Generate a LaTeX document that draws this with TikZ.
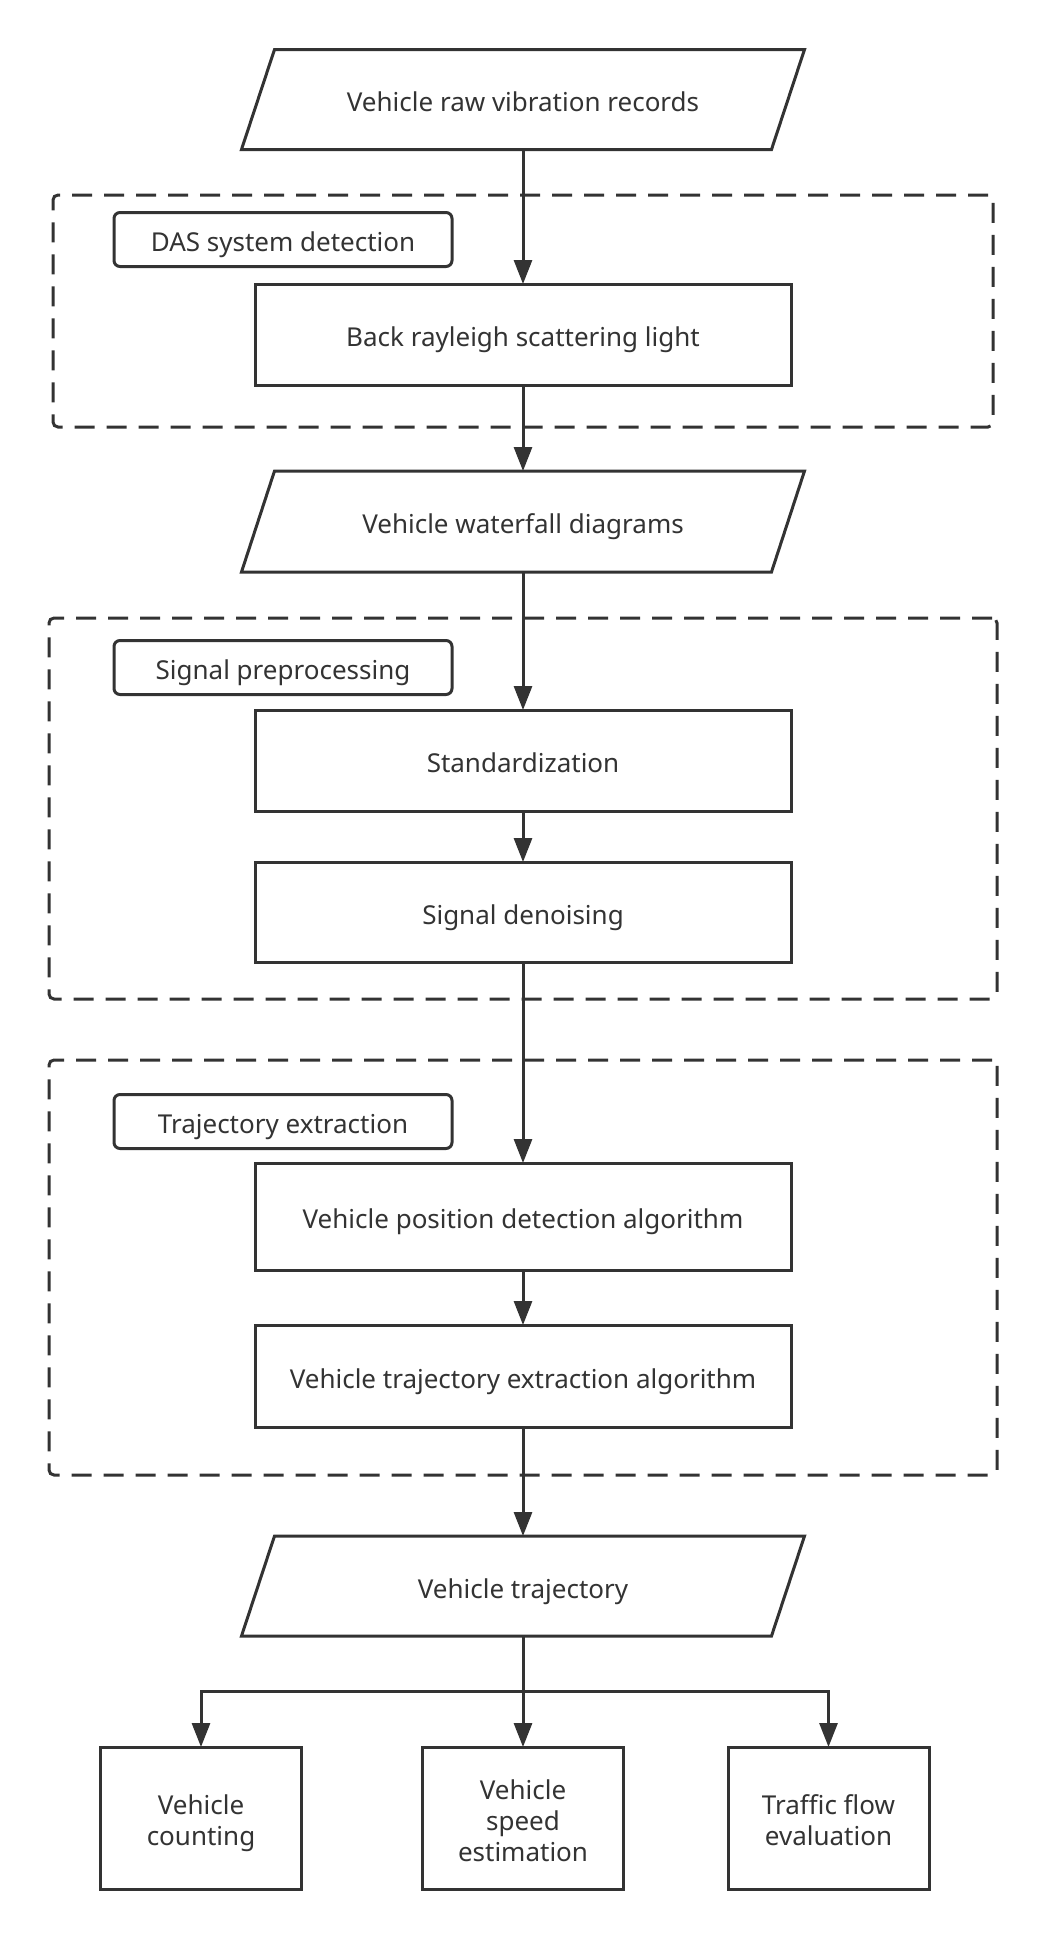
\documentclass[tikz,border=0pt]{standalone}
\usepackage{fontspec}
\setmainfont{Noto Sans}
\usetikzlibrary{arrows.meta}
\definecolor{ink}{HTML}{333333}
\tikzset{
  base/.style={outer sep=0pt, inner sep=0pt, text=ink, font=\fontsize{26}{31}\selectfont, align=center},
  one/.style={text height=24pt, text depth=0pt},
  proc/.style={base, one, draw=ink, line width=3pt, minimum width=536pt, minimum height=101pt},
  para/.style={base, one, minimum width=530pt, minimum height=100pt},
  lab/.style={base, one, draw=ink, line width=3pt, rounded corners=6pt, minimum width=338pt, minimum height=54pt},
  group/.style={base, draw=ink, line width=3pt, rounded corners=5pt, dash pattern=on 20pt off 12pt},
  small/.style={base, draw=ink, line width=3pt, minimum width=201pt, minimum height=142pt, text depth=0pt},
  line/.style={draw=ink, line width=3pt},
  arr/.style={line, -{Triangle[length=24pt,width=18pt]}},
  paraedge/.style={draw=ink, line width=3pt, line join=miter},
}
\newcommand{\paraoutline}[1]{%
  \draw[paraedge] ([xshift=16.5pt]#1.north west) -- ([xshift=16.5pt]#1.north east)
    -- ([xshift=-16.5pt]#1.south east) -- ([xshift=-16.5pt]#1.south west) -- cycle;}
\begin{document}
\begin{tikzpicture}[x=1pt,y=-1pt]
\useasboundingbox[fill=white] (0,0) rectangle (1046,1938);

% groups
\node[group, minimum width=940pt, minimum height=232pt] (g1) at (523,311) {};
\node[group, minimum width=948pt, minimum height=381pt] (g2) at (523,808.5) {};
\node[group, minimum width=948pt, minimum height=415pt] (g3) at (523,1267.5) {};

% group labels
\node[lab] (l1) at (283,239.5) {DAS system detection};
\node[lab] (l2) at (283,667.5) {Signal preprocessing};
\node[lab] (l3) at (283,1121.5) {Trajectory extraction};

% main flow
\node[para] (p1) at (523,99.5) {Vehicle raw vibration records};
\paraoutline{p1}
\node[proc] (r1) at (523,334.5) {Back rayleigh scattering light};
\node[para, minimum height=101pt] (p2) at (523,521.5) {Vehicle waterfall diagrams};
\paraoutline{p2}
\node[proc] (std) at (523,760.5) {Standardization};
\node[proc, minimum height=100pt] (den) at (523,912) {Signal denoising};
\node[proc, minimum height=107pt] (vpd) at (523,1216.5) {Vehicle position detection algorithm};
\node[proc, minimum height=102pt] (vte) at (523,1376) {Vehicle trajectory extraction algorithm};
\node[para] (p3) at (523,1586) {Vehicle trajectory};
\paraoutline{p3}

% outputs
\node[small, text height=54pt] (b1) at (201,1818) {Vehicle\\counting};
\node[small, text height=86pt] (b2) at (523,1818) {Vehicle\\speed\\estimation};
\node[small, text height=55pt] (b3) at (828.5,1818) {Traffic flow\\evaluation};

% connectors
\draw[arr] (p1.south) -- (r1.north);
\draw[arr] (r1.south) -- (p2.north);
\draw[arr] (p2.south) -- (std.north);
\draw[arr] (std.south) -- (den.north);
\draw[arr] (den.south) -- (vpd.north);
\draw[arr] (vpd.south) -- (vte.north);
\draw[arr] (vte.south) -- (p3.north);
\coordinate (br) at (523,1691);
\draw[line] (p3.south) -- (br);
\draw[arr] (br) -- (b2.north);
\draw[arr] (br) -| (b1.north);
\draw[arr] (br) -| (b3.north);
\end{tikzpicture}
\end{document}
